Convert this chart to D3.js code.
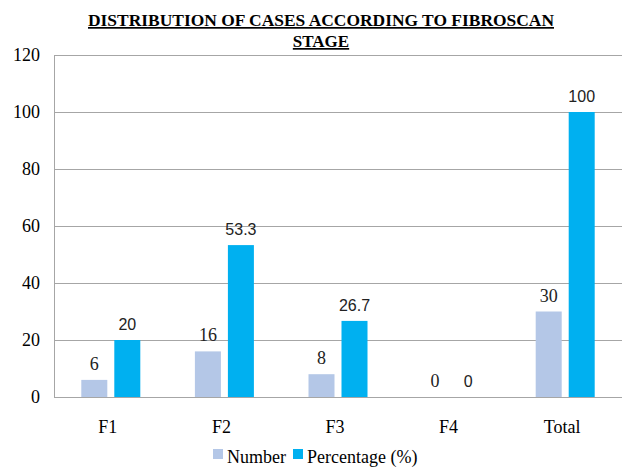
<!DOCTYPE html>
<html>
<head>
<meta charset="utf-8">
<script src="https://cdn.jsdelivr.net/npm/d3@7"></script>
<style>
  body { margin: 0; background: #fff; }
</style>
</head>
<body>
<div id="chart"></div>
<script>
// chart data
var stages = ["F1", "F2", "F3", "F4", "Total"];
var numberValues = [6, 16, 8, 0, 30];
var percentValues = [20, 53.3, 26.7, 0, 100];
var yTicks = [0, 20, 40, 60, 80, 100, 120];
var seriesNames = ["Number", "Percentage (%)"];
var seriesColors = ["#B4C7E7", "#00B0F0"];

var w = 625, h = 468;
var margin = {left: 54, right: 3, top: 55, bottom: 71};
var serif = "Liberation Serif";
var sans = "Liberation Sans";

var svg = d3.select("#chart").append("svg")
  .attr("width", w)
  .attr("height", h)
  .attr("font-family", serif);

var x = d3.scaleBand()
  .domain(stages)
  .range([margin.left, w - margin.right]);

var y = d3.scaleLinear()
  .domain([0, 120])
  .range([h - margin.bottom, margin.top]);

var barW = 26, gap = 7;

// title
var title = svg.append("text")
  .attr("text-anchor", "middle")
  .attr("font-family", serif)
  .attr("font-weight", "bold")
  .attr("font-size", 17)
  .attr("text-decoration", "underline");
title.append("tspan").attr("x", 321).attr("y", 26)
  .attr("textLength", 466).attr("lengthAdjust", "spacingAndGlyphs")
  .text("DISTRIBUTION OF CASES ACCORDING TO FIBROSCAN");
title.append("tspan").attr("x", 321).attr("y", 47).text("STAGE");

// gridlines
svg.append("g")
  .selectAll("line")
  .data(yTicks)
  .enter()
  .append("line")
  .attr("x1", margin.left)
  .attr("x2", w - margin.right)
  .attr("y1", function(d){ return Math.round(y(d)) + 0.5; })
  .attr("y2", function(d){ return Math.round(y(d)) + 0.5; })
  .attr("stroke", "#A6A6A6")
  .attr("stroke-width", 1);

// left axis line
svg.append("line")
  .attr("x1", margin.left + 0.5)
  .attr("x2", margin.left + 0.5)
  .attr("y1", y(120))
  .attr("y2", y(0))
  .attr("stroke", "#A6A6A6");

// y tick labels
svg.append("g")
  .selectAll("text")
  .data(yTicks)
  .enter()
  .append("text")
  .attr("x", 40)
  .attr("y", function(d){ return y(d) + 6; })
  .attr("text-anchor", "end")
  .attr("font-size", 18)
  .text(function(d){ return d; });

// x labels
svg.append("g")
  .selectAll("text")
  .data(stages)
  .enter()
  .append("text")
  .attr("x", function(d){ return x(d) + x.bandwidth() / 2 - 3; })
  .attr("y", y(0) + 36)
  .attr("text-anchor", "middle")
  .attr("font-size", 18)
  .text(function(d){ return d; });

// bars + value labels (number labels serif, percentage labels sans like the original)
var series = [numberValues, percentValues];
series.forEach(function(vals, s){
  var offset = s === 0 ? -gap / 2 - barW : gap / 2;
  svg.append("g")
    .selectAll("rect")
    .data(vals)
    .enter()
    .append("rect")
    .attr("x", function(d, i){ return x(stages[i]) + x.bandwidth() / 2 + offset; })
    .attr("width", barW)
    .attr("y", function(d){ return y(d); })
    .attr("height", function(d){ return y(0) - y(d); })
    .attr("fill", seriesColors[s]);

  svg.append("g")
    .selectAll("text")
    .data(vals)
    .enter()
    .append("text")
    .attr("x", function(d, i){ return x(stages[i]) + x.bandwidth() / 2 + offset + barW / 2; })
    .attr("y", function(d){ return y(d) - 10; })
    .attr("text-anchor", "middle")
    .attr("font-family", s === 0 ? serif : sans)
    .attr("font-size", s === 0 ? 18 : 16)
    .attr("fill", "#222")
    .text(function(d){ return d; });
});

// legend
var legend = svg.append("g");
var legX = [213, 293];
seriesNames.forEach(function(name, i){
  legend.append("rect")
    .attr("x", legX[i])
    .attr("y", 449)
    .attr("width", 10)
    .attr("height", 10)
    .attr("fill", seriesColors[i]);
  legend.append("text")
    .attr("x", legX[i] + 14)
    .attr("y", 463)
    .attr("font-size", 18)
    .text(name);
});
</script>
</body>
</html>
